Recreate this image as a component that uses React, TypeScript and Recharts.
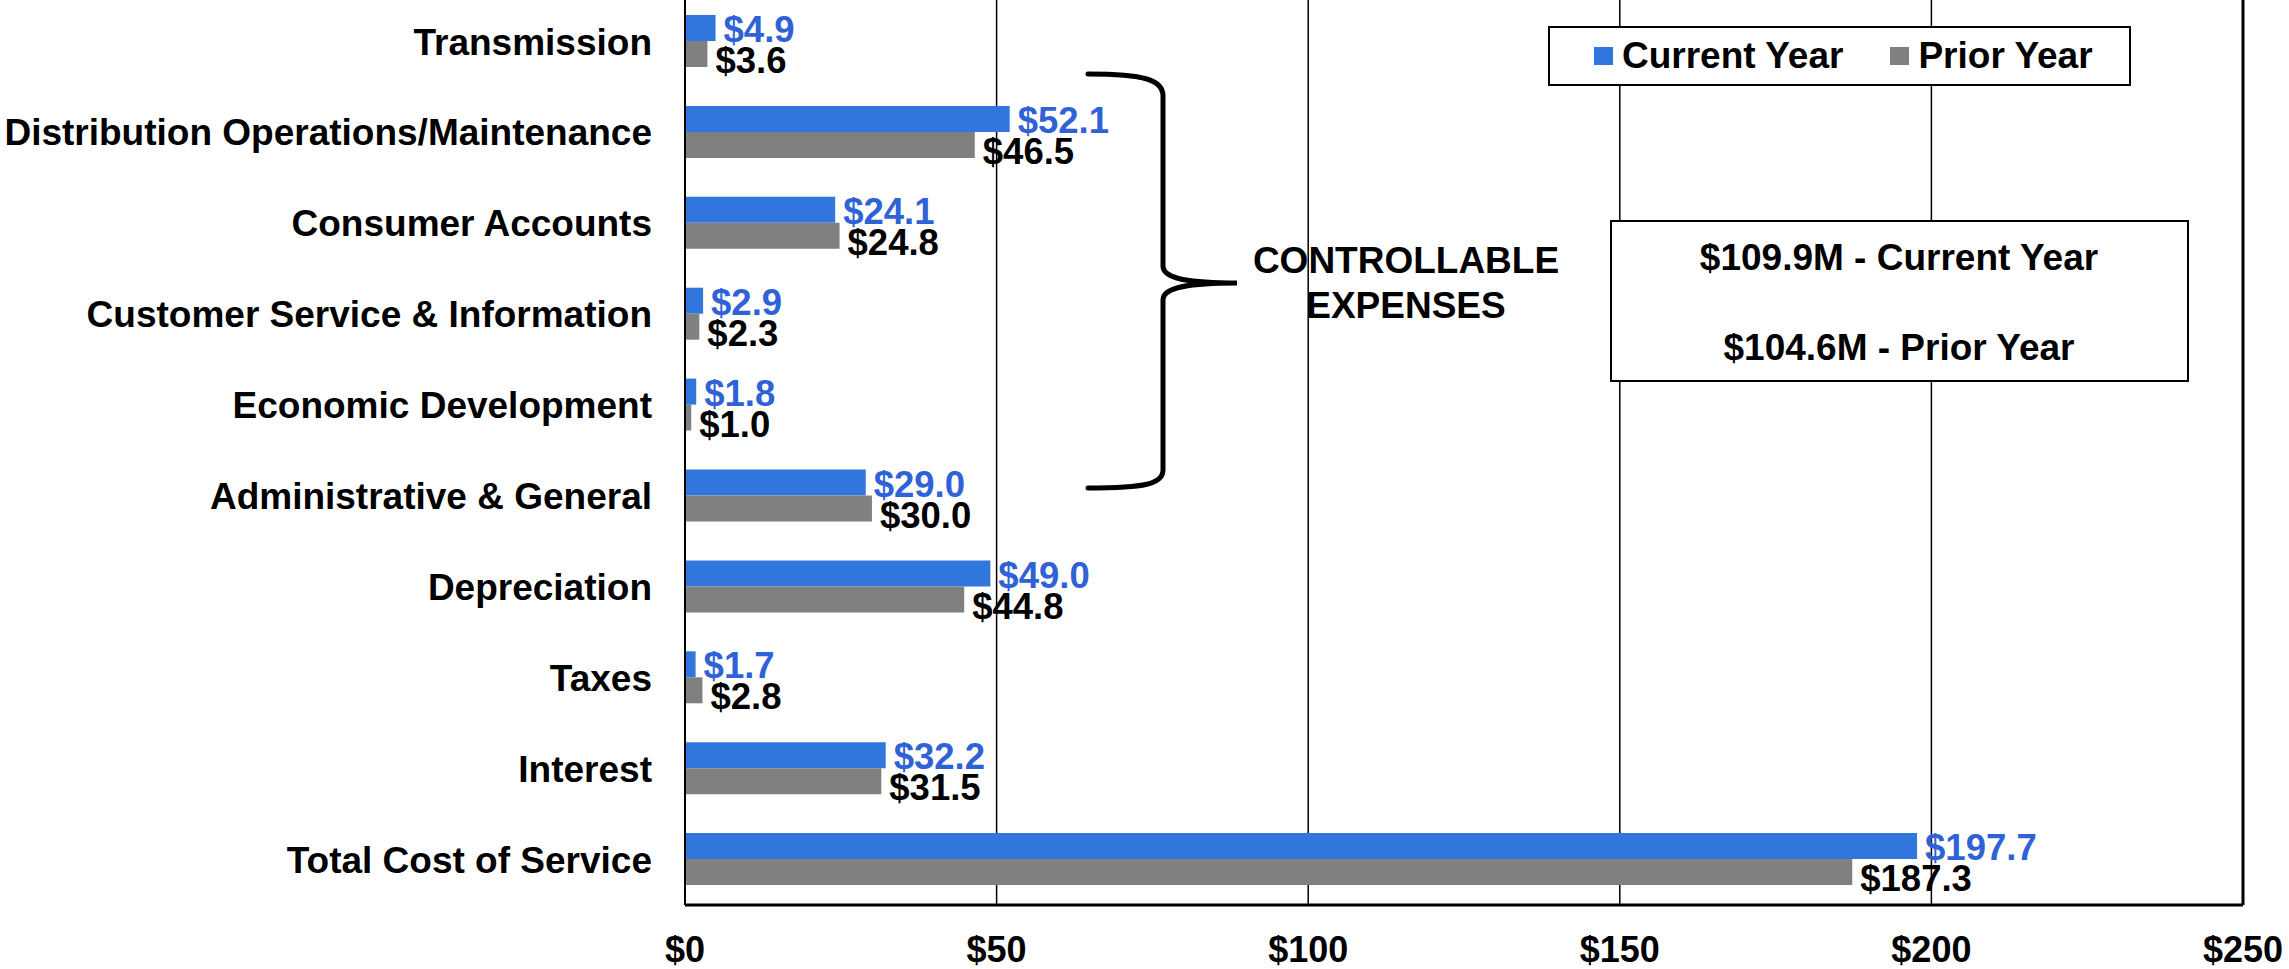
import { BarChart, Bar, XAxis, YAxis, CartesianGrid, Legend, LabelList, ReferenceLine } from 'recharts'

const categories = [
    'Transmission',
    'Distribution Operations/Maintenance',
    'Consumer Accounts',
    'Customer Service & Information',
    'Economic Development',
    'Administrative & General',
    'Depreciation',
    'Taxes',
    'Interest',
    'Total Cost of Service',
]
const currentYear = [4.9, 52.1, 24.1, 2.9, 1.8, 29.0, 49.0, 1.7, 32.2, 197.7]
const priorYear = [3.6, 46.5, 24.8, 2.3, 1.0, 30.0, 44.8, 2.8, 31.5, 187.3]
const xTicks = [0, 50, 100, 150, 200, 250]
const summaryLines = ['$109.9M - Current Year', '$104.6M - Prior Year']
const bracketLabel = ['CONTROLLABLE', 'EXPENSES']

const data = categories.map((name, i) => ({ name, current: currentYear[i], prior: priorYear[i] }))

const FONT = '"Liberation Sans", Arial, sans-serif'
const BLUE = '#3176dc'
const BLUE_TEXT = '#2f62d6'
const GRAY = '#808080'
const W = 2289
const H = 969

const money = (v: number) => `$${Number(v).toFixed(1)}`

const makeLabel = (color: string, dy: number) => (props: any) => {
    const { x, y, width, height, value } = props
    return (
        <text
            x={Number(x) + Number(width) + 8}
            y={Number(y) + Number(height) / 2 + dy}
            dy="0.36em"
            fill={color}
            fontSize={36.5}
            fontWeight="bold"
            fontFamily={FONT}
        >
            {money(value)}
        </text>
    )
}

const LegendBox = ({ payload }: any) => (
    <div
        style={{
            display: 'flex',
            alignItems: 'center',
            gap: 47,
            height: 60,
            paddingLeft: 44,
            boxSizing: 'border-box',
            border: '2px solid #000',
            background: '#fff',
            fontFamily: FONT,
            fontWeight: 'bold',
            fontSize: 37,
            color: '#000',
            whiteSpace: 'nowrap',
        }}
    >
        {(payload ?? []).map((p: any) => (
            <div key={p.value} style={{ display: 'flex', alignItems: 'center', gap: 9 }}>
                <span style={{ width: 19, height: 18, background: p.color, display: 'inline-block' }} />
                <span>{p.value}</span>
            </div>
        ))}
    </div>
)

export default function App() {
    return (
        <div style={{ position: 'absolute', left: 0, top: 0, width: W, height: H, background: '#fff', fontFamily: FONT }}>
            <BarChart
                width={W}
                height={H}
                data={data}
                layout="vertical"
                barGap={0}
                margin={{ top: -4, right: 46, bottom: 0, left: 0 }}
            >
                <CartesianGrid horizontal={false} stroke="#000" strokeWidth={1.5} />
                <XAxis
                    type="number"
                    domain={[0, 250]}
                    ticks={xTicks}
                    interval={0}
                    tickFormatter={(v) => `$${v}`}
                    tick={{ fill: '#000', fontSize: 36, fontWeight: 'bold', fontFamily: FONT }}
                    tickLine={false}
                    tickSize={0}
                    tickMargin={31}
                    axisLine={{ stroke: '#000', strokeWidth: 3 }}
                    height={64}
                />
                <YAxis
                    type="category"
                    dataKey="name"
                    width={685}
                    interval={0}
                    tick={{ fill: '#000', fontSize: 37, fontWeight: 'bold', fontFamily: FONT }}
                    tickLine={false}
                    tickSize={0}
                    tickMargin={33}
                    axisLine={{ stroke: '#000', strokeWidth: 2 }}
                />
                <ReferenceLine x={250} stroke="#000" strokeWidth={3} />
                <Legend
                    layout="horizontal"
                    verticalAlign="middle"
                    align="center"
                    content={<LegendBox />}
                    wrapperStyle={{ left: 1548, top: 26, width: 583 }}
                />
                <Bar dataKey="current" name="Current Year" fill={BLUE} barSize={26} isAnimationActive={false}>
                    <LabelList dataKey="current" content={makeLabel(BLUE_TEXT, 1)} />
                </Bar>
                <Bar dataKey="prior" name="Prior Year" fill={GRAY} barSize={26} isAnimationActive={false}>
                    <LabelList dataKey="prior" content={makeLabel('#000', 6)} />
                </Bar>
            </BarChart>

            {/* annotations: brace, bracket label, summary box */}
            <svg width={W} height={H} style={{ position: 'absolute', left: 0, top: 0, pointerEvents: 'none' }}>
                <path
                    d="M1088,74 C1145,74 1163,80 1163,96 L1163,266 C1163,278 1185,283 1237,283 C1185,283 1163,288 1163,300 L1163,470 C1163,484 1145,488 1088,488"
                    fill="none"
                    stroke="#000"
                    strokeWidth={5}
                    strokeLinecap="round"
                />
                <g fontFamily={FONT} fontWeight="bold" fontSize={37} fill="#000" textAnchor="middle">
                    {bracketLabel.map((t, i) => (
                        <text key={t} x={1406} y={273 + i * 45}>{t}</text>
                    ))}
                </g>
                <rect x={1611} y={221} width={577} height={160} fill="#fff" stroke="#000" strokeWidth={2} />
                <g fontFamily={FONT} fontWeight="bold" fontSize={37} fill="#000" textAnchor="middle">
                    {summaryLines.map((t, i) => (
                        <text key={t} x={1899} y={270 + i * 90}>{t}</text>
                    ))}
                </g>
            </svg>
        </div>
    )
}
